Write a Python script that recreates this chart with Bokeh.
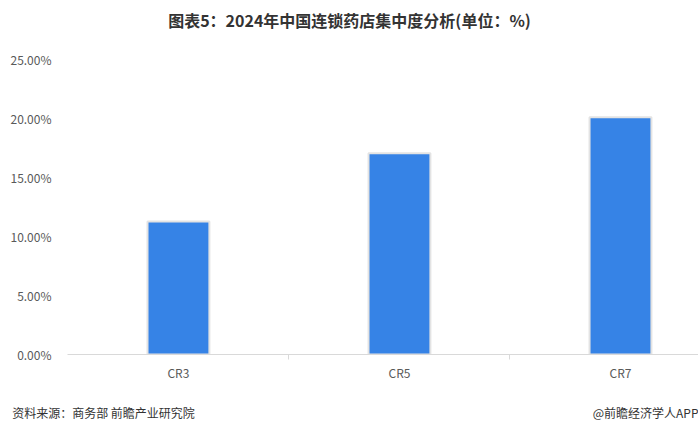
from bokeh.plotting import figure
from bokeh.models import ColumnDataSource, FixedTicker, LinearAxis, Range1d
from bokeh.embed import file_html
from bokeh.resources import INLINE

categories = ["CR3", "CR5", "CR7"]
values = [11.27, 17.06, 20.11]
y_ticks = [0, 5, 10, 15, 20, 25]
y_tick_labels = ["0.00%", "5.00%", "10.00%", "15.00%", "20.00%", "25.00%"]
title_text = "图表5：2024年中国连锁药店集中度分析(单位：%)"
source_text = "资料来源：商务部 前瞻产业研究院"
brand_text = "@前瞻经济学人APP"

W, H = 698, 437
FL, FB = 67, 354          # frame left / bottom in picture pixels
x_pos = list(range(len(categories)))
src = ColumnDataSource(dict(x=x_pos, top=values, cat=categories))

p = figure(width=W, height=H, output_backend="svg", toolbar_location=None,
           x_range=Range1d(-0.502, 2.353), y_range=Range1d(0, 25),
           min_border_left=FL, min_border_right=0, min_border_top=59,
           min_border_bottom=H - FB)
p.outline_line_color = None
p.background_fill_color = "white"
p.border_fill_color = "white"
p.grid.grid_line_color = None

p.vbar(x="x", top="top", width=0.28, bottom=0, source=src,
       fill_color="#3683E6", line_color="#E3E3E3", line_width=2)

font = "Noto Sans CJK SC"
# y axis
p.yaxis.ticker = FixedTicker(ticks=y_ticks)
p.yaxis.major_label_overrides = {t: l for t, l in zip(y_ticks, y_tick_labels)}
p.yaxis.axis_line_color = None
p.yaxis.major_tick_line_color = None
p.yaxis.minor_tick_line_color = None
p.yaxis.major_label_text_font = font
p.yaxis.major_label_text_font_size = "12px"
p.yaxis.major_label_text_color = "#595959"
p.yaxis.major_label_standoff = 10

# x axis
p.xaxis.ticker = FixedTicker(ticks=x_pos, minor_ticks=[i + 0.5 for i in x_pos[:-1]])
p.xaxis.major_label_overrides = {i: c for i, c in zip(x_pos, categories)}
p.xaxis.axis_line_color = "#D9D9D9"
p.xaxis.axis_line_width = 1
p.xaxis.major_tick_line_color = None
p.xaxis.minor_tick_line_color = "#D9D9D9"
p.xaxis.minor_tick_in = 0
p.xaxis.minor_tick_out = 5
p.xaxis.major_label_text_font = font
p.xaxis.major_label_text_font_size = "12px"
p.xaxis.major_label_text_color = "#595959"
p.xaxis.major_label_standoff = 3

# pixel-based helper range for title / footer text axes
p.extra_x_ranges = {"px": Range1d(FL, W)}

def text_axis(pos_dict, size, style, color, standoff):
    ax = LinearAxis(x_range_name="px", ticker=FixedTicker(ticks=list(pos_dict.keys())))
    ax.major_label_overrides = pos_dict
    ax.axis_line_color = None
    ax.major_tick_line_color = None
    ax.minor_tick_line_color = None
    ax.major_label_text_font = font
    ax.major_label_text_font_size = size
    ax.major_label_text_font_style = style
    ax.major_label_text_color = color
    ax.major_label_standoff = standoff
    return ax

title_axis = text_axis({349: title_text}, "16px", "bold", "#333333", 22)
p.add_layout(title_axis, "above")

foot_axis = text_axis({103: source_text, 646: brand_text}, "12px", "normal", "#333333", 14)
p.add_layout(foot_axis, "below")

open("out.html", "w").write(file_html(p, INLINE))
